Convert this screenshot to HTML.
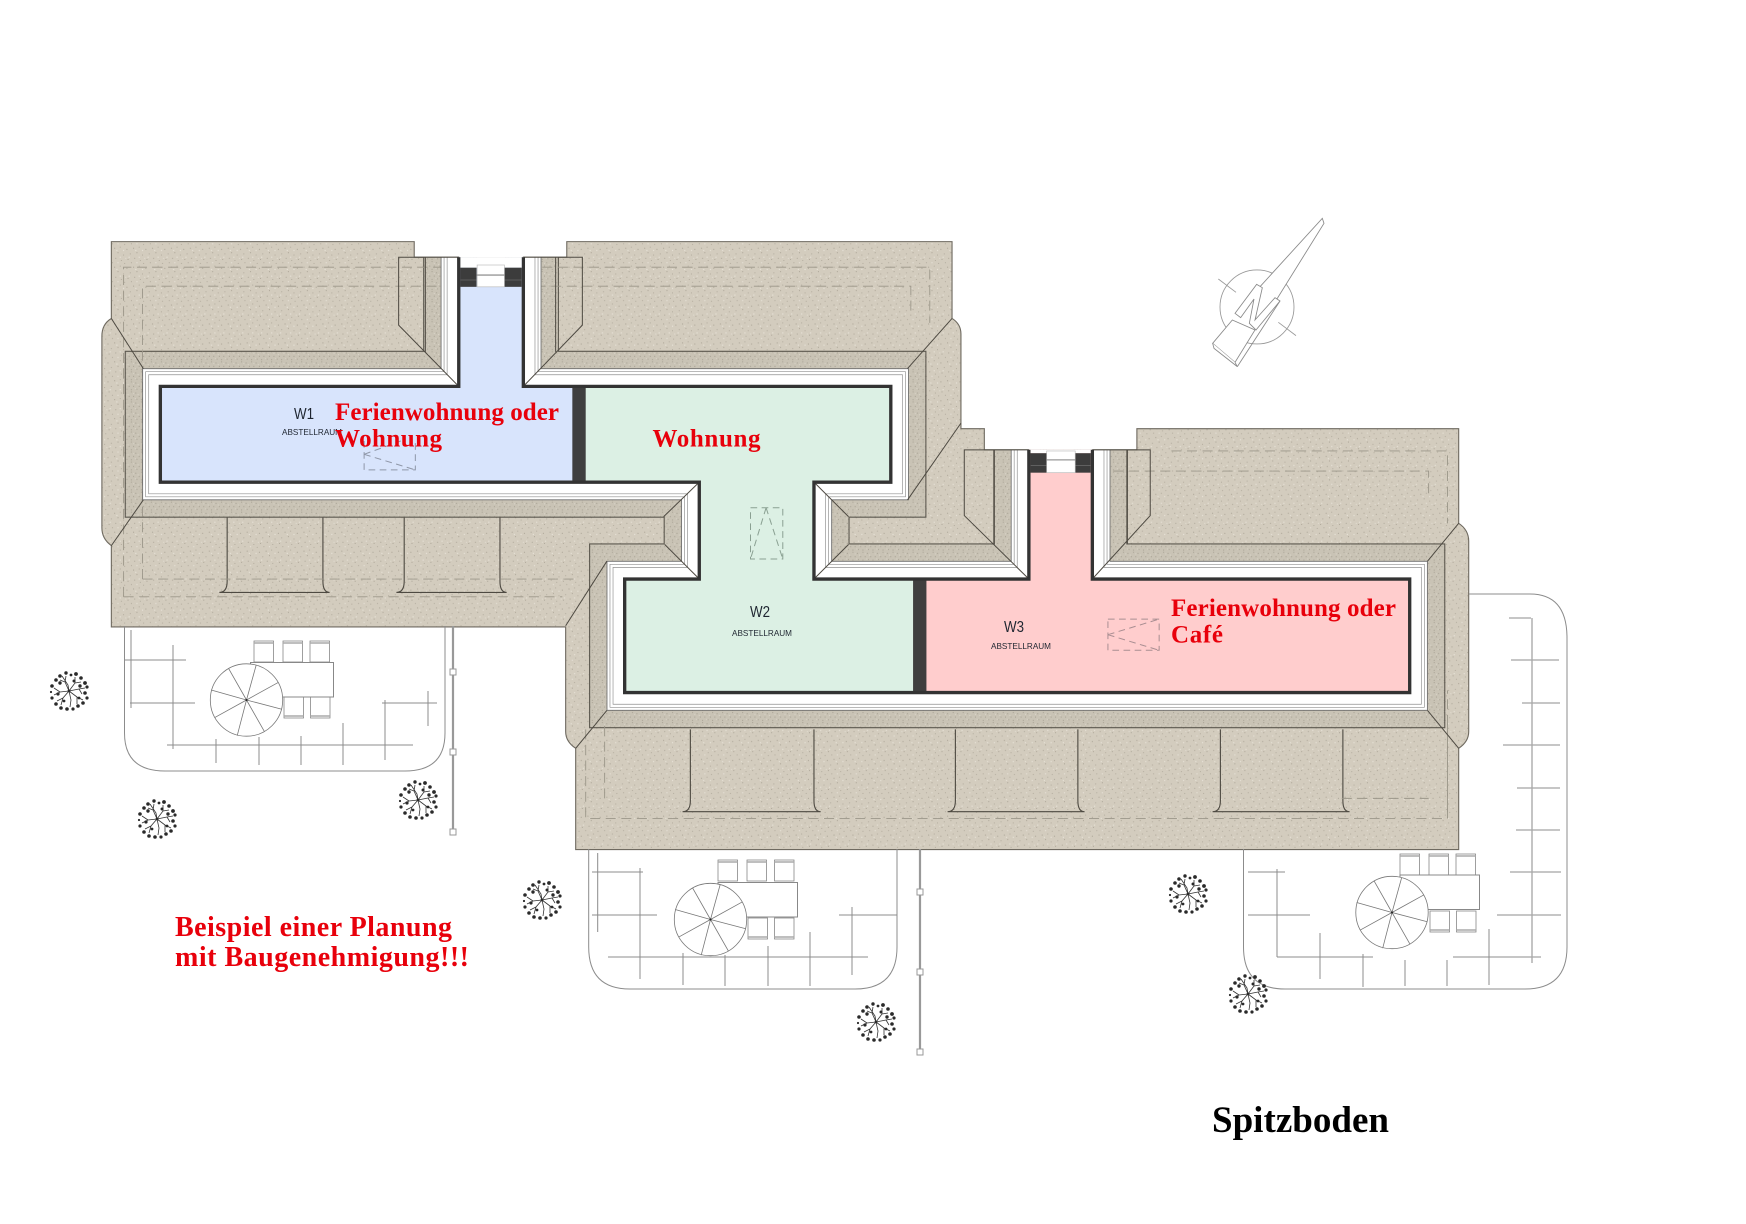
<!DOCTYPE html>
<html lang="de"><head><meta charset="utf-8"><title>Spitzboden</title>
<style>html,body{margin:0;padding:0;background:#fff}svg{display:block}text{font-family:"Liberation Serif",serif}</style></head>
<body>
<svg xmlns="http://www.w3.org/2000/svg" width="1746" height="1224" viewBox="0 0 1746 1224">
<defs>
<pattern id="p1" width="17" height="17" patternUnits="userSpaceOnUse">
<rect width="17" height="17" fill="#d3ccbe"/>
<g fill="#a9a294"><circle cx="1" cy="2" r=".5"/><circle cx="6" cy="1" r=".45"/><circle cx="12" cy="3" r=".5"/><circle cx="15" cy="7" r=".45"/><circle cx="4" cy="6" r=".5"/><circle cx="9" cy="8" r=".45"/><circle cx="2" cy="11" r=".5"/><circle cx="7" cy="13" r=".45"/><circle cx="13" cy="12" r=".5"/><circle cx="16" cy="15" r=".45"/><circle cx="10" cy="15.5" r=".45"/></g>
<g fill="#e6e1d6"><circle cx="3" cy="4" r=".6"/><circle cx="9" cy="4" r=".6"/><circle cx="14" cy="10" r=".6"/><circle cx="6" cy="10" r=".6"/><circle cx="11" cy="11" r=".5"/><circle cx="4" cy="15" r=".6"/></g>
</pattern>
<pattern id="p2" width="9" height="9" patternUnits="userSpaceOnUse">
<rect width="9" height="9" fill="#c9c3b5"/>
<g fill="#9f998b"><circle cx="1" cy="1" r=".45"/><circle cx="5" cy="2" r=".45"/><circle cx="8" cy="5" r=".45"/><circle cx="3" cy="5" r=".45"/><circle cx="6" cy="7.5" r=".45"/><circle cx="1" cy="8" r=".45"/></g>
<g fill="#e0dbd0"><circle cx="3" cy="2.5" r=".45"/><circle cx="7" cy="3.5" r=".45"/><circle cx="4.5" cy="7" r=".45"/></g>
</pattern>
<clipPath id="cl"><polygon points="0,231 860,231 860,404 1568,404 1568,1099 0,1099"/></clipPath>
<clipPath id="room"><path d="M144,347H412V231H470V347H800V433H731V520H924V404H981V520H1266V622H561V520H628V433H144Z"/></clipPath>
<path id="P" d="M144,347H412V190H470V347H800V433H731V520H924V370H981V520H1266V622H561V520H628V433H144Z" fill="none" stroke-linejoin="miter" stroke-miterlimit="10"/>
<g id="tree">
<path d="M0 0L-4-9-9-11M-4-9L-3-15M0 0L6-8 6-14M6-8L12-9M0 0L10-2 16-3M10-2L13 3M0 0L8 6 14 9M8 6L8 13M0 0L2 9 1 16M0 0L-6 7-8 14M-6 7L-12 10M0 0L-9 1-15 4M-9 1L-15-3M0 0L-1-6-7-15" fill="none" stroke="#333" stroke-width=".8"/>
<g fill="#2a2a2a"><circle cx="0" cy="0" r="1.4"/><circle cx="-9" cy="-15" r="1.8"/><circle cx="-3" cy="-18" r="1.7"/><circle cx="2" cy="-16" r="1.4"/><circle cx="7" cy="-17" r="1.9"/><circle cx="12" cy="-13" r="1.8"/><circle cx="16" cy="-8" r="1.9"/><circle cx="18" cy="-4" r="1.6"/><circle cx="16" cy="2" r="1.8"/><circle cx="18" cy="7" r="1.6"/><circle cx="14" cy="12" r="1.8"/><circle cx="9" cy="15" r="1.8"/><circle cx="4" cy="18" r="1.6"/><circle cx="-2" cy="18" r="1.8"/><circle cx="-8" cy="17" r="1.8"/><circle cx="-13" cy="13" r="1.8"/><circle cx="-17" cy="7" r="1.6"/><circle cx="-18" cy="1" r="1.1"/><circle cx="-17" cy="-5" r="1.8"/><circle cx="-13" cy="-11" r="1.8"/><circle cx="-9" cy="-8" r="1.7"/><circle cx="5" cy="-10" r="1.5"/><circle cx="11" cy="-5" r="1.7"/><circle cx="10" cy="7" r="1.4"/><circle cx="-5" cy="10" r="1.4"/><circle cx="-11" cy="3" r="1.6"/></g>
</g>
<g id="wheel" fill="none" stroke="#777" stroke-width=".8">
<circle r="36.2" fill="#fff"/>
<path d="M0 0L-18-31.7M0 0L9.7-35M0 0L32-17.7M0 0L35.3 9.3M0 0L18 31.7M0 0L-9.3 35.7M0 0L-32 17.7M0 0L-35.3-10"/>
<circle r="1" fill="#222" stroke="none"/>
</g>
<g id="chair" fill="#fff" stroke="#888" stroke-width=".8"><rect x="0" y="0" width="19.5" height="21"/><path d="M0 2H19.5" stroke-width="1.4" stroke="#aaa"/></g>
</defs>
<rect width="1746" height="1224" fill="#fff"/>

<g transform="scale(1.1135)">
<!-- roof silhouette -->
<path d="M100,217H372V231H412V345H470V231H509V217H855V286Q863,291 863,300V385H884V404H924V520H981V404H1021V385H1310V470Q1319,476 1319,486V657Q1319,666 1310,672V763H517V672Q508,666 508,657V563H100V490Q91.5,484 91.5,474V302Q91.5,291 100,286Z" fill="url(#p1)" stroke="#6f6a60" stroke-width="1"/>
<!-- dormers on bottom roof -->
<g fill="none" stroke="#4e4a42" stroke-width="1">
<path d="M197,532Q204,532 204,522V449M296,532Q290,532 290,522V449M197,532H296"/>
<path d="M356,532Q363,532 363,522V449M455,532Q449,532 449,522V449M356,532H455"/>
<path d="M613,729Q620,729 620,719V655M737,729Q731,729 731,719V655M613,729H737"/>
<path d="M851,729Q858,729 858,719V655M974,729Q968,729 968,719V655M851,729H974"/>
<path d="M1089,729Q1096,729 1096,719V655M1212,729Q1206,729 1206,719V655M1089,729H1212"/>
</g>
<g clip-path="url(#cl)">
<use href="#P" stroke="#5d5950" stroke-width="64"/>
<use href="#P" stroke="url(#p2)" stroke-width="62"/>
</g>
<!-- dashed roof lines -->
<g fill="none" stroke="#9b9689" stroke-width=".8" stroke-dasharray="9 5">
<path d="M111,536V240H835V290M128,520V257H818V283M128,520H515"/>
<path d="M111,536H505M526,655V735H1300V620M543,717V650M1052,405H1300V470M1000,423H1283V446M1205,717H1283"/>
<path d="M1300,650V735"/>
</g>
<g clip-path="url(#cl)">
<use href="#P" stroke="#6a6a6a" stroke-width="32.5"/>
<use href="#P" stroke="#fff" stroke-width="31"/>
<use href="#P" stroke="#8f8f8f" stroke-width="27"/>
<use href="#P" stroke="#fff" stroke-width="25.8"/>
<use href="#P" stroke="#8f8f8f" stroke-width="21.5"/>
<use href="#P" stroke="#fff" stroke-width="20.3"/>
</g>
<!-- dormer panel outlines and diagonals -->
<g fill="none" stroke="#4e4a42" stroke-width=".9">
<path d="M412,347L358,292V231H412M382,231V316"/>
<path d="M470,347L523,292V231H470M499,231V316"/>
<path d="M924,520L866,463V404H924M893,404V489"/>
<path d="M981,520L1033,463V404H981M1012,404V489"/>
<path d="M128.7,331L100,286M128.7,449L100,490"/>
<path d="M815,331L855,286M815,449L863,380"/>
<path d="M545,504L508,562M545,638L517,672"/>
<path d="M1282,504L1310,470M1282,638L1310,672"/>
<path d="M628,433L596,464M628,520L597,489M731,433L762,464M731,520L762,489"/>
</g>
<!-- rooms -->
<g clip-path="url(#room)">
<rect x="130" y="225" width="390" height="220" fill="#d8e4fc"/>
<rect x="520" y="300" width="306" height="340" fill="#dcf0e4"/>
<rect x="826" y="395" width="450" height="240" fill="#ffcdcd"/>
<rect x="514" y="347" width="12" height="86" fill="#3f3f3f"/>
<rect x="820" y="520" width="12" height="102" fill="#3f3f3f"/>
</g>
<path d="M412,231V347H144V433H628V520H561V622H1266V520H981V404M470,231V347H800V433H731V520H924V404" fill="none" stroke="#333" stroke-width="3"/>
<!-- top windows -->
<rect x="413.5" y="231" width="55" height="9.4" fill="#fff"/>
<rect x="413.5" y="240.4" width="14.5" height="17.2" fill="#3c3c3c"/>
<rect x="453" y="240.4" width="15.5" height="17.2" fill="#3c3c3c"/>
<path d="M413.5,251.5H428M453,251.5H468.5" stroke="#666" stroke-width=".7"/>
<rect x="428.5" y="238" width="24.5" height="19.6" fill="#fff" stroke="#bbb" stroke-width=".6"/>
<path d="M428,247H453" stroke="#999" stroke-width="1.2"/>
<rect x="925.5" y="404" width="54" height="3" fill="#fff"/>
<rect x="925.5" y="407" width="14.5" height="17.5" fill="#3c3c3c"/>
<rect x="965.6" y="407" width="13.9" height="17.5" fill="#3c3c3c"/>
<path d="M925.5,418H940M965.6,418H979.5" stroke="#666" stroke-width=".7"/>
<rect x="940" y="405" width="25.6" height="19.5" fill="#fff" stroke="#bbb" stroke-width=".6"/>
<path d="M940,413H965.6" stroke="#999" stroke-width="1.2"/>
<!-- skylights -->
<g fill="none" stroke="#8f97a8" stroke-width=".9" stroke-dasharray="6 4">
<path d="M327,396V422H373V396M327,408L373,422M327,408L360,396"/>
</g>
<g fill="none" stroke="#8aa092" stroke-width=".9" stroke-dasharray="6 4">
<path d="M674,456H703V502H674ZM688,456L674,502M688,456L703,502"/>
</g>
<g fill="none" stroke="#a98e92" stroke-width=".9" stroke-dasharray="6 4">
<path d="M995,556H1041V584H995ZM995,570L1041,556M995,570L1041,584"/>
</g>
</g>

<!-- north arrow -->
<g transform="translate(1200,205) scale(.3333)">
<g fill="none" stroke="#999" stroke-width="2.6">
<circle cx="171" cy="306" r="111"/>
<path d="M55,222L108,262M235,352L288,392"/>
</g>
<g fill="#fff" stroke="#8a8a8a" stroke-width="2.6" stroke-linejoin="miter">
<path d="M38,415L97,345 165,375 105,472Z"/>
<path d="M38,415L42,430 112,485 105,472"/>
<path d="M180,245L367,40 372,55 232,280 165,352Z"/>
<path d="M105,325L170,238 187,248 165,345 225,278 240,288 168,375 148,355 162,282 122,338Z"/>
<path d="M112,485L240,288" fill="none"/>
</g>
</g>

<!-- terrace 1 -->
<g fill="none" stroke="#8c8c8c" stroke-width="1">
<path d="M124.5,626V733Q124.5,771 165,771H405Q445,771 445,733V626"/>
<path d="M131,630V708M124,660H186M130,703H195M173,645V749M167,745H413M216,739V763M259,737V765M301,736V765M343,723V765M385,700V760M382,703H437M428,691V726"/>
</g>
<use href="#chair" x="254" y="641"/><use href="#chair" x="283" y="641"/><use href="#chair" x="310" y="641"/>
<g transform="translate(284,718) scale(1,-1)"><use href="#chair" x="0" y="0"/><use href="#chair" x="26.5" y="0"/></g>
<rect x="250.5" y="662.5" width="83" height="34.5" fill="#fff" stroke="#888"/>
<use href="#wheel" x="246.5" y="700"/>
<path d="M453,626V832" stroke="#999" stroke-width="2.2"/>
<g fill="#fff" stroke="#999"><rect x="450" y="669" width="6" height="6"/><rect x="450" y="749" width="6" height="6"/><rect x="450" y="829" width="6" height="6"/></g>

<!-- terrace 2 -->
<g fill="none" stroke="#8c8c8c" stroke-width="1">
<path d="M588.7,849V947Q588.7,989 630,989H855Q897,989 897,947V849"/>
<path d="M597.7,853V932M592,872H643M640,868V979M592,915H657M608,957H868M683,953V985M725,955V986M768,946V986M810,932V986M852,907V975M839,915H897"/>
</g>
<use href="#chair" x="718" y="860"/><use href="#chair" x="747" y="860"/><use href="#chair" x="774.5" y="860"/>
<g transform="translate(748,939) scale(1,-1)"><use href="#chair" x="0" y="0"/><use href="#chair" x="26.5" y="0"/></g>
<rect x="718" y="882.5" width="79.5" height="34.5" fill="#fff" stroke="#888"/>
<use href="#wheel" x="710.5" y="919.5"/>
<path d="M920,849V1052" stroke="#999" stroke-width="2.2"/>
<g fill="#fff" stroke="#999"><rect x="917" y="889" width="6" height="6"/><rect x="917" y="969" width="6" height="6"/><rect x="917" y="1049" width="6" height="6"/></g>

<!-- terrace 3 -->
<g fill="none" stroke="#8c8c8c" stroke-width="1">
<path d="M1243.5,849V947Q1243.5,989 1285,989H1525Q1567,989 1567,947V638Q1567,594 1530,594H1469"/>
<path d="M1277,869V957M1248,872H1285M1248,915H1310M1277,957H1373M1320,933V979M1363,954V987M1405,960V986M1447,960V986M1489,929V985M1453,957H1541M1510,872H1561M1497,915H1561M1509,618H1531M1511,660H1559M1522,703H1560M1503,745H1560M1517,788H1560M1516,830H1560"/>
<path d="M1532,618V963" stroke="#aaa" stroke-width="1.4"/>
</g>
<use href="#chair" x="1400" y="854"/><use href="#chair" x="1429" y="854"/><use href="#chair" x="1456" y="854"/>
<g transform="translate(1430,932) scale(1,-1)"><use href="#chair" x="0" y="0"/><use href="#chair" x="26.5" y="0"/></g>
<rect x="1400" y="875" width="79.5" height="34.5" fill="#fff" stroke="#888"/>
<use href="#wheel" x="1392" y="912.5"/>

<!-- trees -->
<use href="#tree" x="69" y="691"/><use href="#tree" x="157" y="819"/><use href="#tree" x="418" y="800"/>
<use href="#tree" x="542" y="900"/><use href="#tree" x="876" y="1022"/><use href="#tree" x="1188" y="894"/><use href="#tree" x="1248" y="994"/>

<!-- labels -->
<g fill="#1e2530">
<text x="294" y="419" font-size="16" textLength="20" lengthAdjust="spacingAndGlyphs" style="font-family:'Liberation Sans',sans-serif">W1</text>
<text x="282" y="435" font-size="8.5" textLength="60" lengthAdjust="spacingAndGlyphs" style="font-family:'Liberation Sans',sans-serif">ABSTELLRAUM</text>
<text x="750" y="617" font-size="16" textLength="20" lengthAdjust="spacingAndGlyphs" style="font-family:'Liberation Sans',sans-serif">W2</text>
<text x="732" y="636" font-size="8.5" textLength="60" lengthAdjust="spacingAndGlyphs" style="font-family:'Liberation Sans',sans-serif">ABSTELLRAUM</text>
<text x="1004" y="632" font-size="16" textLength="20" lengthAdjust="spacingAndGlyphs" style="font-family:'Liberation Sans',sans-serif">W3</text>
<text x="991" y="649" font-size="8.5" textLength="60" lengthAdjust="spacingAndGlyphs" style="font-family:'Liberation Sans',sans-serif">ABSTELLRAUM</text>
</g>
<g fill="#e8000b" font-weight="bold" font-size="25">
<text x="335" y="420" textLength="224">Ferienwohnung oder</text>
<text x="335" y="446.5" textLength="107">Wohnung</text>
<text x="652.5" y="446.5" textLength="108">Wohnung</text>
<text x="1171" y="616" textLength="225">Ferienwohnung oder</text>
<text x="1171" y="642.5" textLength="52">Café</text>
<text x="175" y="936" font-size="28" textLength="277">Beispiel einer Planung</text>
<text x="175" y="966" font-size="28" textLength="294">mit Baugenehmigung!!!</text>
</g>
<text x="1212" y="1132" font-size="37" font-weight="bold" fill="#000" textLength="177">Spitzboden</text>
</svg>
</body></html>
